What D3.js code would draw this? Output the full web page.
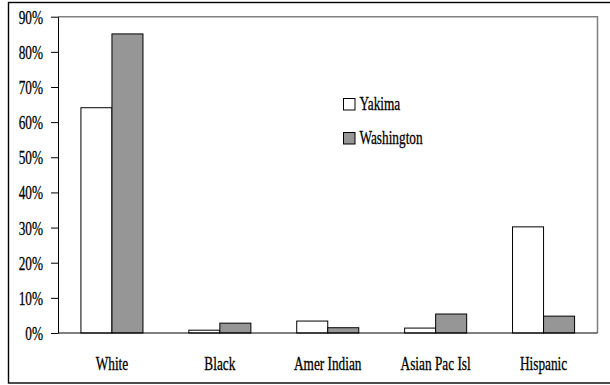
<!DOCTYPE html>
<html>
<head>
<meta charset="utf-8">
<script src="https://cdn.jsdelivr.net/npm/d3@7"></script>
<style>
  html, body { margin: 0; padding: 0; background: #fff; }
  svg { display: block; }
  text { font-family: "Liberation Serif", "Times New Roman", serif; font-size: 19px; fill: #000; stroke: #000; stroke-width: 0.3px; }
</style>
</head>
<body>
<svg id="chart" width="610" height="385"></svg>
<script>
// Population share by race/ethnicity: Yakima vs. Washington
const categories = ["White", "Black", "Amer Indian", "Asian Pac Isl", "Hispanic"];
const seriesNames = ["Yakima", "Washington"];
const yakima = [0.641, 0.008, 0.034, 0.014, 0.302];
const washington = [0.851, 0.028, 0.015, 0.054, 0.048];
const yTicks = [0, 0.1, 0.2, 0.3, 0.4, 0.5, 0.6, 0.7, 0.8, 0.9];

const series = [yakima, washington];
const fills = ["#ffffff", "#969696"];
const squeeze = 0.7; // narrow typeface look

const svg = d3.select("#chart");

const plot = { left: 58, right: 597.5, top: 16.7, bottom: 333 };

const x0 = d3.scaleBand()
  .domain(categories)
  .range([plot.left, plot.right])
  .paddingInner(0.425)
  .paddingOuter(0.2125);

const x1 = d3.scaleBand()
  .domain(seriesNames)
  .range([0, x0.bandwidth()]);

const y = d3.scaleLinear()
  .domain([0, 0.9])
  .range([plot.bottom, plot.top]);

// outer frame
svg.append("rect")
  .attr("x", 8.5).attr("y", 2.5)
  .attr("width", 700).attr("height", 380.5)
  .attr("fill", "none").attr("stroke", "#000").attr("stroke-width", 1.4);

// plot area frame (top and right edges)
svg.append("path")
  .attr("d", `M${plot.left},${plot.top}H${plot.right}V${plot.bottom}`)
  .attr("fill", "none").attr("stroke", "#808080").attr("stroke-width", 1.5);

// bars
const groups = svg.append("g").selectAll("g")
  .data(categories)
  .join("g")
  .attr("transform", d => `translate(${x0(d)},0)`);

groups.selectAll("rect")
  .data((d, i) => seriesNames.map((s, k) => ({ s, k, v: series[k][i] })))
  .join("rect")
  .attr("x", d => x1(d.s))
  .attr("y", d => y(d.v))
  .attr("width", x1.bandwidth())
  .attr("height", d => y(0) - y(d.v))
  .attr("fill", d => fills[d.k])
  .attr("stroke", "#000")
  .attr("stroke-width", 1);

// y axis
const yAxis = svg.append("g")
  .attr("transform", `translate(${plot.left},0)`)
  .call(d3.axisLeft(y).tickValues(yTicks).tickFormat(d3.format(".0%")).tickSize(7).tickSizeOuter(0));
yAxis.attr("font-size", null).attr("font-family", null);
yAxis.select(".domain").attr("stroke", "#000");
yAxis.selectAll(".tick line").attr("stroke", "#000");
yAxis.selectAll(".tick text")
  .attr("x", null).attr("dy", null)
  .attr("transform", `translate(-15,6.5) scale(${squeeze},1)`)
  .attr("text-anchor", "end");

// baseline
svg.append("line")
  .attr("x1", plot.left).attr("x2", plot.right)
  .attr("y1", y(0)).attr("y2", y(0))
  .attr("stroke", "#000").attr("stroke-width", 1.2);

// category labels
svg.append("g").selectAll("text")
  .data(categories)
  .join("text")
  .attr("transform", d => `translate(${x0(d) + x0.bandwidth() / 2},370) scale(${squeeze},1)`)
  .attr("text-anchor", "middle")
  .text(d => d);

// legend
const legend = svg.append("g").selectAll("g")
  .data(seriesNames)
  .join("g")
  .attr("transform", (d, i) => `translate(343.5,${98.5 + i * 34})`);
legend.append("rect")
  .attr("width", 11.5).attr("height", 11.5)
  .attr("fill", (d, i) => fills[i])
  .attr("stroke", "#000").attr("stroke-width", 1);
legend.append("text")
  .attr("transform", `translate(16,11.5) scale(${squeeze},1)`)
  .text(d => d);
</script>
</body>
</html>
